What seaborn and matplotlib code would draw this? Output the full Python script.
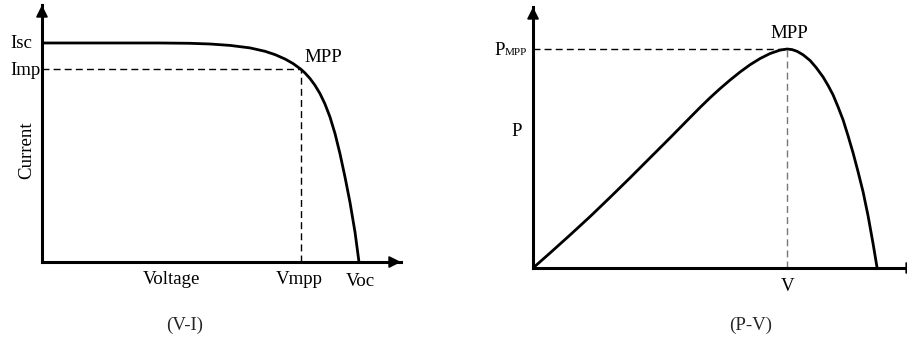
import matplotlib
matplotlib.use("Agg")
import matplotlib.pyplot as plt
import pandas as pd
import seaborn as sns

# I-V characteristic of a PV cell (per-unit voltage and current)
iv_voltage = [0.0, 0.3722, 0.4669, 0.5300, 0.5931, 0.6562, 0.7035, 0.7350,
              0.7666, 0.7918, 0.8170, 0.8297, 0.8454, 0.8612, 0.8770,
              0.8927, 0.9085, 0.9243, 0.9401, 0.9558, 0.9716, 0.9874, 1.0]
iv_current = [1.0, 1.0, 0.9986, 0.9954, 0.9890, 0.9776, 0.9621, 0.9470,
              0.9269, 0.9064, 0.8799, 0.8630, 0.8379, 0.8068, 0.7689,
              0.7215, 0.6621, 0.5868, 0.4941, 0.3886, 0.2726, 0.1370, 0.0]
iv_vmpp = 0.817
iv_imp = 0.880
iv_isc = 1.0
iv_voc = 1.0

# P-V characteristic of the same cell (per-unit voltage and power)
pv_voltage = [0.0, 0.0494, 0.1076, 0.1657, 0.2238, 0.2820, 0.3401, 0.3983,
              0.4564, 0.4855, 0.5145, 0.5436, 0.5727, 0.6017, 0.6308,
              0.6599, 0.6890, 0.7180, 0.7384, 0.7529, 0.7674, 0.7849,
              0.8052, 0.8227, 0.8430, 0.8576, 0.8721, 0.8866, 0.9012,
              0.9157, 0.9302, 0.9448, 0.9593, 0.9738, 0.9884, 1.0]
pv_power = [0.0, 0.0685, 0.1507, 0.2347, 0.3224, 0.4119, 0.5032, 0.5945,
            0.6872, 0.7333, 0.7776, 0.8192, 0.8584, 0.8950, 0.9283,
            0.9566, 0.9795, 0.9950, 1.0, 0.9973, 0.9895, 0.9735,
            0.9475, 0.9155, 0.8721, 0.8333, 0.7900, 0.7352, 0.6758,
            0.6027, 0.5251, 0.4384, 0.3470, 0.2374, 0.1096, 0.0]
pv_vmpp = 0.7384
pv_pmpp = 1.0

sns.set_theme(style="white")
plt.rcParams["font.family"] = ["Liberation Serif", "DejaVu Serif"]
FS = 13.6

iv_df = pd.DataFrame({"Voltage": iv_voltage, "Current": iv_current})
pv_df = pd.DataFrame({"Voltage": pv_voltage, "Power": pv_power})

fig = plt.figure(figsize=(9.07, 3.42), dpi=100)
ax1 = fig.add_axes([0.0463, 0.2339, 0.3958, 0.7515])
ax2 = fig.add_axes([0.5877, 0.2164, 0.4245, 0.7632])

PX = 0.72  # one pixel in points at 100 dpi


def label(ax, text, xy, dx, dy, **kw):
    """Place text at an offset (in pixels) from a data point."""
    kw.setdefault("fontsize", FS)
    ax.annotate(text, xy=xy, xytext=(dx * PX, dy * PX),
                textcoords="offset points", annotation_clip=False,
                color="black", **kw)


def arrow_axes(ax):
    sns.despine(ax=ax)
    for side in ("left", "bottom"):
        ax.spines[side].set_linewidth(2.2)
        ax.spines[side].set_color("black")
    ax.set_xticks([])
    ax.set_yticks([])
    ax.set_xlabel("")
    ax.set_ylabel("")
    ax.patch.set_alpha(0)
    head = dict(arrowstyle="-|>", color="black", lw=1.2,
                mutation_scale=18, shrinkA=0, shrinkB=0)
    ax.annotate("", xy=(0, 1), xytext=(0, 0.9), xycoords="axes fraction",
                arrowprops=head, annotation_clip=False)
    ax.annotate("", xy=(1, 0), xytext=(0.9, 0), xycoords="axes fraction",
                arrowprops=head, annotation_clip=False)


line_style = dict(color="black", linewidth=2.0, estimator=None,
                  solid_joinstyle="round", solid_capstyle="round")

# ---- I-V curve ----
sns.lineplot(data=iv_df, x="Voltage", y="Current", ax=ax1, **line_style)
ax1.set_xlim(0, 1.1325)
ax1.set_ylim(0, 1.1735)
ax1.plot([0, iv_vmpp], [iv_imp, iv_imp], color="black", lw=1.0,
         dashes=(5, 3))
ax1.plot([iv_vmpp, iv_vmpp], [0, iv_imp], color="black", lw=1.0,
         dashes=(5, 3))
arrow_axes(ax1)

label(ax1, "Isc", (0, iv_isc), -32, -1, ha="left", va="center")
label(ax1, "Imp", (0, iv_imp), -32, -1, ha="left", va="center")
label(ax1, "Current", (0, 0.511), -15, 0, ha="center", va="center",
      rotation=90)
label(ax1, "MPP", (iv_vmpp, iv_imp), 3, 12, ha="left", va="center")
label(ax1, "Voltage", (0.41, 0), 0, -9, ha="center", va="top")
label(ax1, "Vmpp", (iv_vmpp, 0), -2, -9, ha="center", va="top")
label(ax1, "Voc", (iv_voc, 0), 1, -11, ha="center", va="top")

# ---- P-V curve ----
sns.lineplot(data=pv_df, x="Voltage", y="Power", ax=ax2, **line_style)
ax2.set_xlim(0, 1.119)
ax2.set_ylim(0, 1.192)
ax2.plot([0, pv_vmpp], [pv_pmpp, pv_pmpp], color="black", lw=1.0,
         dashes=(5, 3))
ax2.plot([pv_vmpp, pv_vmpp], [0, pv_pmpp], color="#777777", lw=1.0,
         dashes=(5, 3))
arrow_axes(ax2)

label(ax2, "P", (0, pv_pmpp), -28, -6, ha="right", va="baseline")
label(ax2, "MPP", (0, pv_pmpp), -6, -6, ha="right", va="baseline",
      fontsize=8)
label(ax2, "P", (0, 0.626), -16, -1, ha="center", va="center")
label(ax2, "MPP", (pv_vmpp, pv_pmpp), 2, 16, ha="center", va="center")
label(ax2, "V", (pv_vmpp, 0), 0, -19, ha="center", va="center")

fig.text(185 / 907, 1 - 325 / 342, "(V-I)", ha="center", va="center",
         fontsize=FS)
fig.text(751 / 907, 1 - 325 / 342, "(P-V)", ha="center", va="center",
         fontsize=FS)

fig.savefig("out.png", dpi=100, facecolor="white")
